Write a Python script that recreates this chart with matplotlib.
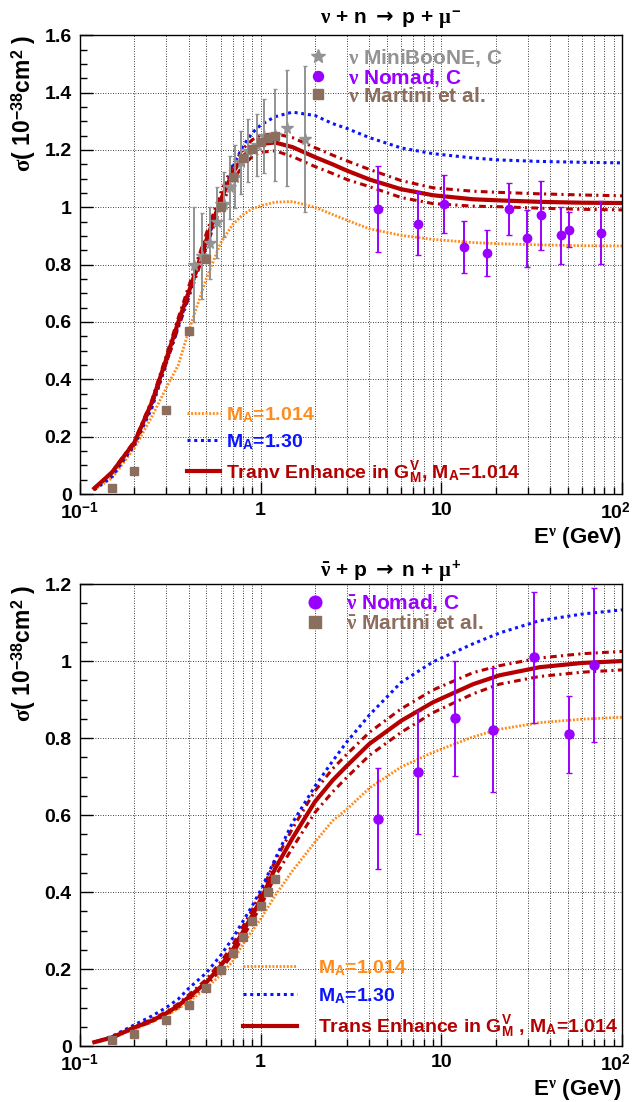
import numpy as np
import matplotlib
matplotlib.use('Agg')
from matplotlib import pyplot as plt
from matplotlib.ticker import MultipleLocator, LogLocator, NullFormatter, FuncFormatter
from matplotlib.transforms import ScaledTranslation

plt.rcParams['font.family'] = 'Liberation Sans'
plt.rcParams['font.weight'] = 'bold'
plt.rcParams['mathtext.fontset'] = 'custom'
plt.rcParams['mathtext.rm'] = 'Liberation Sans:bold'
plt.rcParams['mathtext.bf'] = 'Liberation Sans:bold'
plt.rcParams['mathtext.sf'] = 'DejaVu Sans'
plt.rcParams['mathtext.it'] = 'Liberation Serif'

# ---------------- data ----------------
e_curve = [0.12, 0.15, 0.2, 0.25, 0.3, 0.35, 0.4, 0.5, 0.6, 0.7, 0.8, 0.9, 1.0,
           1.2, 1.5, 2.0, 2.5, 3, 4, 6, 9, 15, 21, 35, 60, 100]

# neutrino, nu + n -> p + mu-
nu_ma1014 = [0.015, 0.055, 0.16, 0.27, 0.37, 0.45, 0.57, 0.75, 0.875, 0.94, 0.975,
             0.995, 1.005, 1.018, 1.02, 1.0, 0.975, 0.955, 0.925, 0.902, 0.888,
             0.877, 0.873, 0.869, 0.866, 0.865]
nu_ma130 = [0.015, 0.06, 0.17, 0.30, 0.455, 0.585, 0.695, 0.875, 1.015, 1.14,
            1.215, 1.26, 1.287, 1.316, 1.332, 1.32, 1.292, 1.275, 1.243, 1.207,
            1.187, 1.172, 1.165, 1.16, 1.157, 1.155]
nu_trans = [0.02, 0.075, 0.18, 0.32, 0.47, 0.60, 0.705, 0.885, 1.025, 1.12, 1.177,
            1.207, 1.221, 1.226, 1.21, 1.175, 1.15, 1.128, 1.097, 1.063, 1.042,
            1.028, 1.024, 1.019, 1.016, 1.015]
nu_trans_hi = [0.02, 0.077, 0.185, 0.328, 0.482, 0.615, 0.725, 0.908, 1.05, 1.146,
               1.205, 1.236, 1.251, 1.257, 1.243, 1.208, 1.182, 1.162, 1.132, 1.093,
               1.068, 1.056, 1.052, 1.047, 1.043, 1.04]
nu_trans_lo = [0.02, 0.073, 0.175, 0.31, 0.455, 0.58, 0.685, 0.862, 1.0, 1.092,
               1.147, 1.177, 1.192, 1.197, 1.177, 1.142, 1.118, 1.097, 1.072, 1.034,
               1.013, 1.004, 1.002, 0.997, 0.993, 0.991]

e_miniboone = [0.425, 0.475, 0.525, 0.575, 0.625, 0.675, 0.725, 0.775, 0.85, 0.95,
               1.05, 1.2, 1.4, 1.75]
s_miniboone = [0.80, 0.83, 0.875, 0.947, 1.01, 1.07, 1.107, 1.157, 1.197, 1.217,
               1.25, 1.252, 1.277, 1.237]
err_miniboone = [0.2, 0.15, 0.126, 0.123, 0.112, 0.11, 0.11, 0.11, 0.11, 0.107,
                 0.129, 0.16, 0.203, 0.255]

e_nomad_nu = [4.44, 7.42, 10.4, 13.3, 17.8, 23.8, 29.7, 35.6, 45.9, 51.0, 76.4]
s_nomad_nu = [0.993, 0.942, 1.011, 0.861, 0.841, 0.993, 0.892, 0.972, 0.902, 0.922, 0.911]
err_nomad_nu = [0.15, 0.11, 0.10, 0.09, 0.081, 0.091, 0.10, 0.12, 0.10, 0.06, 0.11]

e_martini = [0.15, 0.2, 0.3, 0.4, 0.5, 0.6, 0.7, 0.8, 0.9, 1.0, 1.1, 1.2]
s_martini_nu = [0.02, 0.08, 0.293, 0.568, 0.82, 1.0, 1.106, 1.171, 1.205, 1.228,
                1.243, 1.249]

# antineutrino, nubar + p -> n + mu+
nub_ma1014 = [0.008, 0.02, 0.044, 0.062, 0.08, 0.097, 0.115, 0.15, 0.185, 0.22,
              0.265, 0.30, 0.33, 0.39, 0.455, 0.53, 0.585, 0.615, 0.67, 0.725,
              0.763, 0.803, 0.823, 0.84, 0.849, 0.854]
nub_ma130 = [0.01, 0.025, 0.055, 0.078, 0.10, 0.122, 0.15, 0.19, 0.235, 0.28,
             0.325, 0.365, 0.405, 0.485, 0.58, 0.675, 0.74, 0.79, 0.86, 0.945,
             0.998, 1.045, 1.073, 1.105, 1.122, 1.133]
nub_trans = [0.01, 0.022, 0.048, 0.066, 0.085, 0.105, 0.127, 0.165, 0.208, 0.25,
             0.298, 0.34, 0.38, 0.46, 0.54, 0.635, 0.69, 0.728, 0.785, 0.845,
             0.893, 0.94, 0.963, 0.984, 0.995, 1.0]
nub_trans_hi = [0.01, 0.023, 0.05, 0.069, 0.089, 0.11, 0.133, 0.173, 0.218, 0.262,
                0.312, 0.355, 0.397, 0.48, 0.565, 0.663, 0.72, 0.758, 0.815, 0.876,
                0.925, 0.97, 0.988, 1.008, 1.019, 1.025]
nub_trans_lo = [0.01, 0.021, 0.046, 0.063, 0.081, 0.10, 0.121, 0.157, 0.198, 0.238,
                0.284, 0.325, 0.363, 0.44, 0.515, 0.607, 0.66, 0.698, 0.755, 0.815,
                0.866, 0.915, 0.94, 0.96, 0.971, 0.977]

e_nomad_nub = [4.45, 7.45, 11.9, 19.4, 32.7, 51.0, 70.1]
s_nomad_nub = [0.591, 0.711, 0.851, 0.821, 1.01, 0.81, 0.99]
err_nomad_nub = [0.13, 0.16, 0.15, 0.16, 0.17, 0.10, 0.20]

s_martini_nub = [0.016, 0.03, 0.067, 0.106, 0.15, 0.197, 0.241, 0.284, 0.325,
                 0.364, 0.40, 0.434]

# ---------------- style ----------------
c_orange = '#ff8c1a'
c_blue = '#0a14ff'
c_red = '#b40000'
c_gray = '#939393'
c_purple = '#9900ff'
c_brown = '#8c6e5f'

ls_orange = (0, (0.7, 0.6))
ls_blue = (0, (1.0, 1.2))
ls_band = (0, (2.2, 1.4, 0.7, 1.4))

xticks = [0.1, 1, 10, 100]
xticklabels = [r'10$^{\mathrm{-1}}$', '1', '10', r'10$^{\mathrm{2}}$']
arrow = r'$\mathsf{\rightarrow}$'


def style_axes(ax, ymax):
    ax.set_xscale('log')
    ax.set_xlim(0.1, 100)
    ax.set_ylim(0, ymax)
    ax.set_xticks(xticks)
    ax.set_xticklabels(xticklabels)
    ax.xaxis.set_minor_locator(LogLocator(base=10, subs=np.arange(2, 10)))
    ax.xaxis.set_minor_formatter(NullFormatter())
    ax.yaxis.set_major_locator(MultipleLocator(0.2))
    ax.yaxis.set_minor_locator(MultipleLocator(0.05))
    ax.yaxis.set_major_formatter(FuncFormatter(lambda v, p: '%g' % round(v, 2)))
    ax.tick_params(which='both', direction='in', top=False, right=False,
                   labelsize=14, width=1)
    ax.tick_params(which='major', length=9, pad=6)
    ax.tick_params(which='minor', length=5)
    ax.grid(True, which='both', axis='x', color='k', ls=(0, (1, 2)), lw=0.6)
    ax.grid(True, which='major', axis='y', color='k', ls=(0, (1, 2)), lw=0.6)
    for s in ax.spines.values():
        s.set_linewidth(1.0)
    # pull the last label ("10^2") a little inside the figure edge
    lab = ax.get_xticklabels()[-1]
    lab.set_transform(lab.get_transform() + ScaledTranslation(-5 / 72, 0, fig.dpi_scale_trans))


fig = plt.figure(figsize=(6.35, 11.02), dpi=100)
ax1 = fig.add_axes([0.126, 0.5517, 0.8535, 0.4163])
ax2 = fig.add_axes([0.126, 0.0508, 0.8535, 0.4192])

# ---------------- top: neutrino ----------------
ax1.plot(e_curve, nu_trans_hi, color=c_red, lw=2.2, ls=ls_band)
ax1.plot(e_curve, nu_trans_lo, color=c_red, lw=2.2, ls=ls_band)
l_or, = ax1.plot(e_curve, nu_ma1014, color=c_orange, lw=2.0, ls=ls_orange)
l_bl, = ax1.plot(e_curve, nu_ma130, color=c_blue, lw=2.2, ls=ls_blue)
l_rd, = ax1.plot(e_curve, nu_trans, color=c_red, lw=3.0)

mb = ax1.errorbar(e_miniboone, s_miniboone, yerr=err_miniboone, fmt='*', color=c_gray,
                  ms=8.5, elinewidth=1.4, capsize=1.5, zorder=4)
nm = ax1.errorbar(e_nomad_nu, s_nomad_nu, yerr=err_nomad_nu, fmt='o', color=c_purple,
                  ms=6, elinewidth=1.4, capsize=2, zorder=4)
mt, = ax1.plot(e_martini, s_martini_nu, 's', color=c_brown, ms=6, zorder=5)
style_axes(ax1, 1.6)

leg = ax1.legend([mb.lines[0], nm.lines[0], mt],
                 [r'$\nu$ MiniBooNE, C', r'$\nu$ Nomad, C', r'$\nu$ Martini et al.'],
                 loc='upper left', bbox_to_anchor=(0.419, 0.975), frameon=False,
                 fontsize=15, handlelength=1, handletextpad=0.95, labelspacing=-0.1,
                 borderpad=0, borderaxespad=0, markerscale=1.2)
for t, c in zip(leg.get_texts(), [c_gray, c_purple, c_brown]):
    t.set_color(c)
ax1.add_artist(leg)
leg = ax1.legend([l_or, l_bl, l_rd],
                 [r'M$_{\mathrm{A}}$=1.014', r'M$_{\mathrm{A}}$=1.30',
                  r'Tranv Enhance in G$^{\mathrm{V}}_{\mathrm{M}}$, M$_{\mathrm{A}}$=1.014'],
                 loc='upper left', bbox_to_anchor=(0.198, 0.194), frameon=False,
                 fontsize=14, handlelength=1.7, handletextpad=0.3, labelspacing=0.38,
                 borderpad=0, borderaxespad=0)
for t, c in zip(leg.get_texts(), [c_orange, c_blue, c_red]):
    t.set_color(c)

# ---------------- bottom: antineutrino ----------------
ax2.plot(e_curve, nub_trans_hi, color=c_red, lw=2.2, ls=ls_band)
ax2.plot(e_curve, nub_trans_lo, color=c_red, lw=2.2, ls=ls_band)
l_or, = ax2.plot(e_curve, nub_ma1014, color=c_orange, lw=2.0, ls=ls_orange)
l_bl, = ax2.plot(e_curve, nub_ma130, color=c_blue, lw=2.2, ls=ls_blue)
l_rd, = ax2.plot(e_curve, nub_trans, color=c_red, lw=3.0)

nm = ax2.errorbar(e_nomad_nub, s_nomad_nub, yerr=err_nomad_nub, fmt='o', color=c_purple,
                  ms=6.5, elinewidth=1.4, capsize=2, zorder=4)
mt, = ax2.plot(e_martini, s_martini_nub, 's', color=c_brown, ms=6, zorder=5)
style_axes(ax2, 1.2)

leg = ax2.legend([nm.lines[0], mt],
                 [r'$\bar{\nu}$ Nomad, C', r'$\bar{\nu}$ Martini et al.'],
                 loc='upper left', bbox_to_anchor=(0.414, 0.983), frameon=False,
                 fontsize=15, handlelength=1, handletextpad=1.0, labelspacing=0.0,
                 borderpad=0, borderaxespad=0, markerscale=1.4)
for t, c in zip(leg.get_texts(), [c_purple, c_brown]):
    t.set_color(c)
ax2.add_artist(leg)
leg = ax2.legend([l_or, l_bl, l_rd],
                 [r'M$_{\mathrm{A}}$=1.014', r'M$_{\mathrm{A}}$=1.30',
                  r'Trans Enhance in G$^{\mathrm{V}}_{\mathrm{M}}$ , M$_{\mathrm{A}}$=1.014'],
                 loc='upper left', bbox_to_anchor=(0.3, 0.19), frameon=False,
                 fontsize=14, handlelength=2.8, handletextpad=1.1, labelspacing=0.42,
                 borderpad=0, borderaxespad=0)
for t, c in zip(leg.get_texts(), [c_orange, c_blue, c_red]):
    t.set_color(c)

# ---------------- titles and axis labels ----------------
W, H = 635.0, 1102.0
fig.text(391 / W, 1 - 20 / H, r'$\nu$ + n ' + arrow + r' p + $\mu^{-}$',
         ha='center', va='center', fontsize=15)
fig.text(391 / W, 1 - 571 / H, r'$\bar{\nu}$ + p ' + arrow + r' n + $\mu^{+}$',
         ha='center', va='center', fontsize=15)
for ytop, ylab in [(35, 538), (585, 1090)]:
    fig.text(622 / W, 1 - ylab / H, r'E$^{\nu}$ (GeV)', ha='right', va='center',
             fontsize=16)
    fig.text(24 / W, 1 - ytop / H, r'$\sigma$( 10$^{\mathrm{-38}}$cm$^{\mathrm{2}}$ )',
             rotation=90, ha='center', va='top', fontsize=16.5)

fig.savefig('out.png', dpi=100)
